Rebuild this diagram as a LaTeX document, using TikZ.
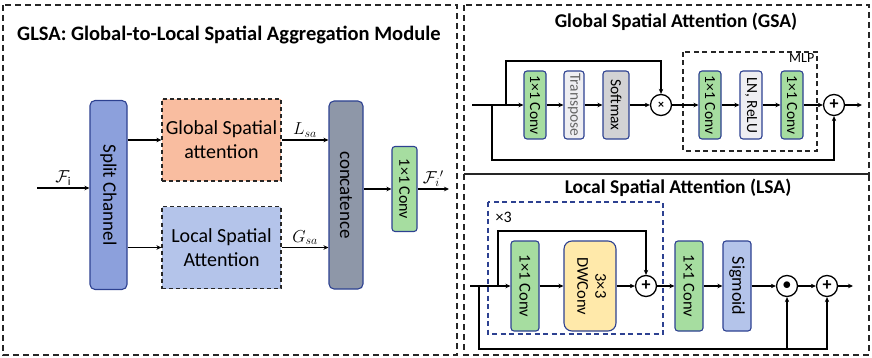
\documentclass[tikz,border=0pt]{standalone}
\usepackage{fontspec}
\setmainfont{Carlito}
\usepackage{amsmath,amssymb}
\usetikzlibrary{positioning, calc, arrows.meta}
\definecolor{darkblue}{RGB}{45,65,145}
\definecolor{splitblue}{RGB}{140,160,220}
\definecolor{salmon}{RGB}{249,189,160}
\definecolor{lightblue}{RGB}{180,196,234}
\definecolor{concatgray}{RGB}{142,151,168}
\definecolor{convgreen}{RGB}{166,221,160}
\definecolor{dwyellow}{RGB}{255,233,170}
\definecolor{paleg}{RGB}{238,238,242}
\definecolor{softgray}{RGB}{210,210,212}

\begin{document}
\begin{tikzpicture}[x=1pt, y=-1pt,
        panel/.style={draw=black!85, dash pattern=on 6pt off 4pt, line width=1.2pt},
        blk/.style={rectangle, draw=darkblue, line width=1.1pt, rounded corners=3pt, inner sep=0pt, align=center},
        attn/.style={rectangle, draw=black!85, dash pattern=on 4pt off 3pt, line width=1.2pt, minimum width=119pt, minimum height=82pt, inner sep=2pt, align=center, font=\fontsize{20}{24}\selectfont},
        gblk/.style={blk, minimum width=22pt, minimum height=68pt, font=\fontsize{15.5}{16}\selectfont},
        lblk/.style={blk, minimum width=28pt, minimum height=90pt, font=\fontsize{16.5}{18}\selectfont},
        op/.style={circle, draw, line width=1.3pt, minimum size=21pt, inner sep=0pt, font=\bfseries\fontsize{18}{18}\selectfont},
        arrow/.style={-{Stealth[length=5pt, width=4.5pt]}, line width=1.1pt},
        lbl/.style={font=\fontsize{17}{17}\selectfont, inner sep=2pt}
    ]
    \useasboundingbox (0,0) rectangle (872,358);

    % GLSA module
    \draw[panel] (3,5) rectangle (457,355);
    \node[anchor=west, font=\bfseries\fontsize{20.5}{22}\selectfont, inner sep=0pt] (TITLE) at (17,35) {GLSA: Global-to-Local Spatial Aggregation Module};
    \node[blk, fill=splitblue, minimum width=37pt, minimum height=189pt, rounded corners=5pt, font=\fontsize{19}{19}\selectfont] (SPLIT) at (108.5,195) {\rotatebox{-90}{Split Channel}};
    \node[attn, fill=salmon] (GSA) at (221.5,140) {Global Spatial\\attention};
    \node[attn, fill=lightblue] (LSA) at (221.5,247.5) {Local Spatial\\Attention};
    \node[blk, fill=concatgray, minimum width=34pt, minimum height=188pt, rounded corners=5pt, font=\fontsize{19}{19}\selectfont] (CAT) at (346,195) {\rotatebox{-90}{concatence}};
    \node[blk, fill=convgreen, minimum width=25pt, minimum height=85pt, font=\fontsize{16}{16}\selectfont] (CONV) at (404.5,189) {\rotatebox{-90}{1×1 Conv}};
    \coordinate (FIN) at (37,188);
    \coordinate (FOUT) at (449,189);
    \draw[arrow] (FIN) -- (SPLIT.west |- FIN) node[lbl, midway, above] {$\mathcal{F}_{\mathrm{i}}$};
    \draw[arrow] (SPLIT.east |- GSA) -- (GSA);
    \draw[arrow] (SPLIT.east |- LSA) -- (LSA);
    \draw[arrow] (GSA.east) -- (GSA.east -| CAT.west) node[lbl, midway, above] {$L_{sa}$};
    \draw[arrow] (LSA.east) -- (LSA.east -| CAT.west) node[lbl, midway, above] {$G_{sa}$};
    \draw[arrow] (CAT.east |- CONV) -- (CONV);
    \draw[arrow] (CONV) -- (FOUT) node[lbl, midway, above] {$\mathcal{F}_i{}'$};

    % Global Spatial Attention
    \draw[panel] (464,5) rectangle (869,174);
    \node[font=\bfseries\fontsize{19.5}{20}\selectfont] (GTITLE) at (676,22) {Global Spatial Attention (GSA)};
    \draw[black!85, dash pattern=on 5pt off 3.5pt, line width=1.1pt] (683,52) rectangle (817,151);
    \node[anchor=north east, font=\fontsize{14}{14}\selectfont, inner sep=1.5pt] (MLP) at (816,52) {MLP};
    \coordinate (GIN) at (472,105);
    \coordinate (GB1) at (492,105);
    \coordinate (GB2) at (506,105);
    \node[gblk, fill=convgreen] (G1) at (535,105) {\rotatebox{-90}{1×1 Conv}};
    \node[gblk, fill=paleg, minimum width=20pt, text=black!60] (GT) at (574,105) {\rotatebox{-90}{Transpose}};
    \node[gblk, fill=softgray, minimum width=26pt] (GS) at (616,105) {\rotatebox{-90}{Softmax}};
    \node[op, font=\bfseries\fontsize{12}{12}\selectfont] (GMUL) at (661,105) {×};
    \node[gblk, fill=convgreen] (G2) at (710,105) {\rotatebox{-90}{1×1 Conv}};
    \node[gblk, fill=paleg] (GLN) at (751,105) {\rotatebox{-90}{LN, ReLU}};
    \node[gblk, fill=convgreen] (G3) at (792,105) {\rotatebox{-90}{1×1 Conv}};
    \node[op] (GADD) at (834,105) {+};
    \coordinate (GOUT) at (862,105);
    \draw[arrow] (GIN) -- (G1);
    \draw[arrow] (G1) -- (GT);
    \draw[arrow] (GT) -- (GS);
    \draw[arrow] (GS) -- (GMUL);
    \draw[arrow] (GMUL) -- (G2);
    \draw[arrow] (G2) -- (GLN);
    \draw[arrow] (GLN) -- (G3);
    \draw[arrow] (G3) -- (GADD);
    \draw[arrow] (GADD) -- (GOUT);
    \draw[arrow] (GB2) -- ++(0,-44) -| (GMUL);
    \draw[arrow] (GB1) -- ++(0,55) -| (GADD);

    % Local Spatial Attention
    \draw[panel] (464,174) rectangle (869,355);
    \node[font=\bfseries\fontsize{19.5}{20}\selectfont] (LTITLE) at (678,188) {Local Spatial Attention (LSA)};
    \draw[darkblue, dash pattern=on 5pt off 3.5pt, line width=1.1pt] (488,202) rectangle (663,334);
    \node[anchor=west, font=\fontsize{16}{16}\selectfont] (REP) at (492,217) {×3};
    \coordinate (LIN) at (470,286);
    \coordinate (LB1) at (479,286);
    \coordinate (LB2) at (498,286);
    \node[lblk, fill=convgreen] (L1) at (525,286) {\rotatebox{-90}{1×1 Conv}};
    \node[lblk, fill=dwyellow, minimum width=52pt, rounded corners=8pt] (LDW) at (590,286) {\rotatebox{-90}{\begin{tabular}{@{}c@{}}3×3\\DWConv\end{tabular}}};
    \node[op] (LADD1) at (646,286) {+};
    \node[lblk, fill=convgreen] (L2) at (689,286) {\rotatebox{-90}{1×1 Conv}};
    \node[lblk, fill=lightblue, font=\fontsize{18}{18}\selectfont] (LSIG) at (737,286) {\rotatebox{-90}{Sigmoid}};
    \node[op] (LDOT) at (787,286) {$\bullet$};
    \node[op] (LADD2) at (827,286) {+};
    \coordinate (LOUT) at (853,286);
    \coordinate (LBOT) at (787,349);
    \draw[arrow] (LIN) -- (L1);
    \draw[arrow] (L1) -- (LDW);
    \draw[arrow] (LDW) -- (LADD1);
    \draw[arrow] (LADD1) -- (L2);
    \draw[arrow] (L2) -- (LSIG);
    \draw[arrow] (LSIG) -- (LDOT);
    \draw[arrow] (LDOT) -- (LADD2);
    \draw[arrow] (LADD2) -- (LOUT);
    \draw[arrow] (LB2) -- ++(0,-55) -| (LADD1);
    \draw[arrow] (LB1) -- ++(0,63) -| (LADD2);
    \draw[arrow] (LBOT) -- (LDOT);
\end{tikzpicture}
\end{document}
